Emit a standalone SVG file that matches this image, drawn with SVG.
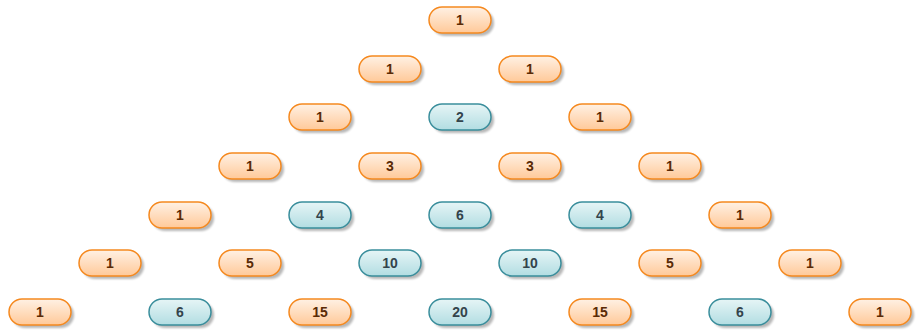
<svg xmlns="http://www.w3.org/2000/svg" width="916" height="330" viewBox="0 0 916 330">
<defs>
<linearGradient id="go" x1="0" y1="0" x2="0" y2="1"><stop offset="0" stop-color="#fff1e4"/><stop offset="1" stop-color="#ffc999"/></linearGradient>
<linearGradient id="gb" x1="0" y1="0" x2="0" y2="1"><stop offset="0" stop-color="#e6f5f6"/><stop offset="1" stop-color="#b2dde2"/></linearGradient>
<filter id="sh" x="-20%" y="-40%" width="140%" height="180%"><feGaussianBlur stdDeviation="1.2"/></filter>
<g id="o"><rect x="-28" y="-10" width="62" height="26" rx="13" fill="#000" opacity="0.28" filter="url(#sh)"/><rect x="-31" y="-13" width="62" height="26" rx="13" fill="url(#go)" stroke="#f5891f" stroke-width="1.5"/></g>
<g id="b"><rect x="-28" y="-10" width="62" height="26" rx="13" fill="#000" opacity="0.28" filter="url(#sh)"/><rect x="-31" y="-13" width="62" height="26" rx="13" fill="url(#gb)" stroke="#3a8e9c" stroke-width="1.5"/></g>
</defs>
<style>
text{font-family:"Liberation Sans",Arial,sans-serif;font-weight:bold;font-size:14px;text-anchor:middle;dominant-baseline:central}
.to{fill:#5a2a05}
.tb{fill:#33444c}
</style>
<g id="connectors"></g>
<g id="n0_0" transform="translate(460,20)"><use href="#o"/><text class="to">1</text></g>
<g id="n1_0" transform="translate(390,69)"><use href="#o"/><text class="to">1</text></g>
<g id="n1_1" transform="translate(530,69)"><use href="#o"/><text class="to">1</text></g>
<g id="n2_0" transform="translate(320,117)"><use href="#o"/><text class="to">1</text></g>
<g id="n2_1" transform="translate(460,117)"><use href="#b"/><text class="tb">2</text></g>
<g id="n2_2" transform="translate(600,117)"><use href="#o"/><text class="to">1</text></g>
<g id="n3_0" transform="translate(250,166)"><use href="#o"/><text class="to">1</text></g>
<g id="n3_1" transform="translate(390,166)"><use href="#o"/><text class="to">3</text></g>
<g id="n3_2" transform="translate(530,166)"><use href="#o"/><text class="to">3</text></g>
<g id="n3_3" transform="translate(670,166)"><use href="#o"/><text class="to">1</text></g>
<g id="n4_0" transform="translate(180,215)"><use href="#o"/><text class="to">1</text></g>
<g id="n4_1" transform="translate(320,215)"><use href="#b"/><text class="tb">4</text></g>
<g id="n4_2" transform="translate(460,215)"><use href="#b"/><text class="tb">6</text></g>
<g id="n4_3" transform="translate(600,215)"><use href="#b"/><text class="tb">4</text></g>
<g id="n4_4" transform="translate(740,215)"><use href="#o"/><text class="to">1</text></g>
<g id="n5_0" transform="translate(110,263)"><use href="#o"/><text class="to">1</text></g>
<g id="n5_1" transform="translate(250,263)"><use href="#o"/><text class="to">5</text></g>
<g id="n5_2" transform="translate(390,263)"><use href="#b"/><text class="tb">10</text></g>
<g id="n5_3" transform="translate(530,263)"><use href="#b"/><text class="tb">10</text></g>
<g id="n5_4" transform="translate(670,263)"><use href="#o"/><text class="to">5</text></g>
<g id="n5_5" transform="translate(810,263)"><use href="#o"/><text class="to">1</text></g>
<g id="n6_0" transform="translate(40,312)"><use href="#o"/><text class="to">1</text></g>
<g id="n6_1" transform="translate(180,312)"><use href="#b"/><text class="tb">6</text></g>
<g id="n6_2" transform="translate(320,312)"><use href="#o"/><text class="to">15</text></g>
<g id="n6_3" transform="translate(460,312)"><use href="#b"/><text class="tb">20</text></g>
<g id="n6_4" transform="translate(600,312)"><use href="#o"/><text class="to">15</text></g>
<g id="n6_5" transform="translate(740,312)"><use href="#b"/><text class="tb">6</text></g>
<g id="n6_6" transform="translate(880,312)"><use href="#o"/><text class="to">1</text></g>
</svg>
